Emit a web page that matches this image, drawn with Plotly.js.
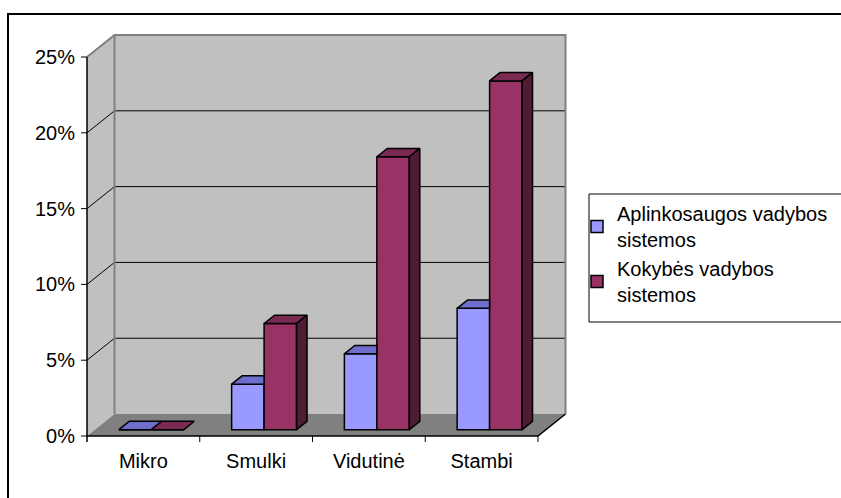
<!DOCTYPE html>
<html>
<head>
<meta charset="utf-8">
<script src="https://cdn.plot.ly/plotly-3.0.1.min.js"></script>
<style>
  html, body { margin: 0; padding: 0; background: #ffffff; }
  #chart { width: 841px; height: 498px; }
</style>
</head>
<body>
<div id="chart"></div>
<script>
// ---- data ----
const categories = ['Mikro', 'Smulki', 'Vidutinė', 'Stambi'];
const envValues = [0, 3, 5, 8];        // Aplinkosaugos vadybos sistemos (%)
const qualValues = [0, 7, 18, 23];     // Kokybės vadybos sistemos (%)
const seriesNames = ['Aplinkosaugos vadybos<br>sistemos', 'Kokybės vadybos<br>sistemos'];
const yTickVals = [0, 5, 10, 15, 20, 25];
const yTickText = ['0%', '5%', '10%', '15%', '20%', '25%'];

// ---- geometry (pseudo-3D projection, in axis units) ----
const N = categories.length;
const X_RANGE = [-0.5798, 3.8282];
const Y_RANGE = [-0.6596, 26.913];
const DX = 0.244;    // depth shift along x (category units)
const DY = 1.45;     // depth shift along y (percent units)
const F0 = 0.29;     // depth of bar front face (fraction)
const F1 = 0.67;     // depth of bar back face (fraction)
const BW = 0.288;    // bar width (category units)
const YMAX = yTickVals[yTickVals.length - 1];
const XL = -0.5, XRt = N - 0.5;

const colors = {
  envFront: '#9999FF', envTop: '#6E6ECC',
  qualFront: '#993366', qualTop: '#7A2952', qualSide: '#4F1C36',
  wall: '#C0C0C0', floor: '#808080', edge: '#808080'
};

const base = F0 * DY;
const sdx = (F1 - F0) * DX, sdy = (F1 - F0) * DY;
const idx = categories.map((c, i) => i);

function poly(pts, xs, ys) {
  pts.forEach(p => { xs.push(p[0]); ys.push(p[1]); });
  xs.push(pts[0][0]); ys.push(pts[0][1]);
  xs.push(null); ys.push(null);
}

// front faces (bar traces)
const envX = idx.map(i => i + F0 * DX - BW / 2);
const qualX = idx.map(i => i + F0 * DX + BW / 2);

// top & side faces
const envTopX = [], envTopY = [], qualTopX = [], qualTopY = [], qualSideX = [], qualSideY = [];
idx.forEach(i => {
  const bxl = i + F0 * DX - BW, bxr = i + F0 * DX;
  const bt = base + envValues[i];
  if (qualValues[i] > envValues[i]) {
    poly([[bxl, bt], [bxr, bt], [bxr, bt + sdy], [bxl + sdx, bt + sdy]], envTopX, envTopY);
  } else {
    poly([[bxl, bt], [bxr, bt], [bxr + sdx, bt + sdy], [bxl + sdx, bt + sdy]], envTopX, envTopY);
  }
  const mxl = bxr, mxr = bxr + BW;
  const mt = base + qualValues[i];
  poly([[mxl, mt], [mxr, mt], [mxr + sdx, mt + sdy], [mxl + sdx, mt + sdy]], qualTopX, qualTopY);
  if (qualValues[i] > 0) {
    poly([[mxr, base], [mxr, mt], [mxr + sdx, mt + sdy], [mxr + sdx, base + sdy]], qualSideX, qualSideY);
  }
});

const lineBlack = { color: '#000000', width: 1.5 };

const traces = [
  { type: 'bar', name: seriesNames[0], x: envX, y: envValues, base: base, width: BW,
    marker: { color: colors.envFront, line: lineBlack }, hoverinfo: 'skip' },
  { type: 'bar', name: seriesNames[1], x: qualX, y: qualValues, base: base, width: BW,
    marker: { color: colors.qualFront, line: lineBlack }, hoverinfo: 'skip' },
  { type: 'scatter', mode: 'lines', x: envTopX, y: envTopY, fill: 'toself', fillcolor: colors.envTop,
    line: lineBlack, showlegend: false, hoverinfo: 'skip' },
  { type: 'scatter', mode: 'lines', x: qualTopX, y: qualTopY, fill: 'toself', fillcolor: colors.qualTop,
    line: lineBlack, showlegend: false, hoverinfo: 'skip' },
  { type: 'scatter', mode: 'lines', x: qualSideX, y: qualSideY, fill: 'toself', fillcolor: colors.qualSide,
    line: lineBlack, showlegend: false, hoverinfo: 'skip' }
];

// ---- walls, floor, gridlines, axis lines as shapes ----
const shapes = [];
shapes.push({ type: 'path', xref: 'x', yref: 'y', layer: 'below',
  path: `M${XL},0 L${XL + DX},${DY} L${XL + DX},${YMAX + DY} L${XL},${YMAX} Z`,
  fillcolor: colors.wall, line: { width: 0 } });
shapes.push({ type: 'rect', xref: 'x', yref: 'y', layer: 'below',
  x0: XL + DX, x1: XRt + DX, y0: DY, y1: YMAX + DY,
  fillcolor: colors.wall, line: { width: 0 } });
shapes.push({ type: 'path', xref: 'x', yref: 'y', layer: 'below',
  path: `M${XL},0 L${XRt},0 L${XRt + DX},${DY} L${XL + DX},${DY} Z`,
  fillcolor: colors.floor, line: { width: 0 } });
yTickVals.filter(t => t > 0 && t < YMAX).forEach(t => {
  shapes.push({ type: 'path', xref: 'x', yref: 'y', layer: 'below',
    path: `M${XL},${t} L${XL + DX},${t + DY} L${XRt + DX},${t + DY}`,
    line: { color: '#000000', width: 1 } });
});
shapes.push({ type: 'path', xref: 'x', yref: 'y', layer: 'below',
  path: `M${XL},${YMAX} L${XL + DX},${YMAX + DY} L${XRt + DX},${YMAX + DY} L${XRt + DX},${DY}`,
  line: { color: colors.edge, width: 2 } });
shapes.push({ type: 'line', xref: 'x', yref: 'y', layer: 'below',
  x0: XL + DX, x1: XL + DX, y0: DY, y1: YMAX + DY,
  line: { color: colors.edge, width: 2 } });
const tickLenY = 6 / 15.16;
const tickLenX = 6 / 112.75;
shapes.push({ type: 'path', xref: 'x', yref: 'y', layer: 'below',
  path: `M${XL},0 L${XRt},0 L${XRt + DX},${DY}`,
  line: { color: '#000000', width: 1.5 } });
shapes.push({ type: 'line', xref: 'x', yref: 'y', layer: 'below',
  x0: XL, x1: XL, y0: -tickLenY, y1: YMAX, line: { color: '#000000', width: 1.5 } });
yTickVals.forEach(t => {
  shapes.push({ type: 'line', xref: 'x', yref: 'y', layer: 'below',
    x0: XL - tickLenX, x1: XL, y0: t, y1: t, line: { color: '#000000', width: 1 } });
});
for (let k = 1; k <= N; k++) {
  shapes.push({ type: 'line', xref: 'x', yref: 'y', layer: 'below',
    x0: XL + k, x1: XL + k, y0: 0, y1: -tickLenY, line: { color: '#000000', width: 1 } });
}

// paper-space helpers (plot area: px 78..575 x, 28..446 y)
const PL = 78, PR = 575, PT = 28, PB = 446;
const px2p = px => (px - PL) / (PR - PL);
const py2p = py => (PB - py) / (PB - PT);
shapes.push({ type: 'rect', xref: 'paper', yref: 'paper', layer: 'below',
  x0: px2p(8), x1: px2p(846), y0: py2p(503), y1: py2p(14),
  line: { color: '#000000', width: 2 }, fillcolor: 'rgba(0,0,0,0)' });
shapes.push({ type: 'rect', xref: 'paper', yref: 'paper', layer: 'above',
  x0: px2p(589), x1: px2p(850), y0: py2p(322), y1: py2p(194),
  line: { color: '#000000', width: 1 }, fillcolor: '#ffffff' });

const font = { family: '"Liberation Sans", Arial, sans-serif', size: 20, color: '#000000' };

const layout = {
  width: 841, height: 498,
  margin: { l: PL, r: 841 - PR, t: PT, b: 498 - PB, pad: 0, autoexpand: false },
  paper_bgcolor: '#ffffff', plot_bgcolor: 'rgba(0,0,0,0)',
  font: font,
  barmode: 'overlay',
  showlegend: true,
  legend: {
    x: px2p(577), y: py2p(194), xanchor: 'left', yanchor: 'top',
    bgcolor: 'rgba(0,0,0,0)', borderwidth: 0, font: font, traceorder: 'normal'
  },
  xaxis: {
    range: X_RANGE, tickmode: 'array', tickvals: idx, ticktext: categories,
    showgrid: false, zeroline: false, showline: false, ticks: '',
    ticklabelstandoff: 1, fixedrange: true
  },
  yaxis: {
    range: Y_RANGE, tickmode: 'array', tickvals: yTickVals, ticktext: yTickText,
    showgrid: false, zeroline: false, showline: false, ticks: '',
    ticklabelstandoff: 2, fixedrange: true
  },
  shapes: shapes
};

Plotly.newPlot('chart', traces, layout, { staticPlot: true, displayModeBar: false });
</script>
</body>
</html>
